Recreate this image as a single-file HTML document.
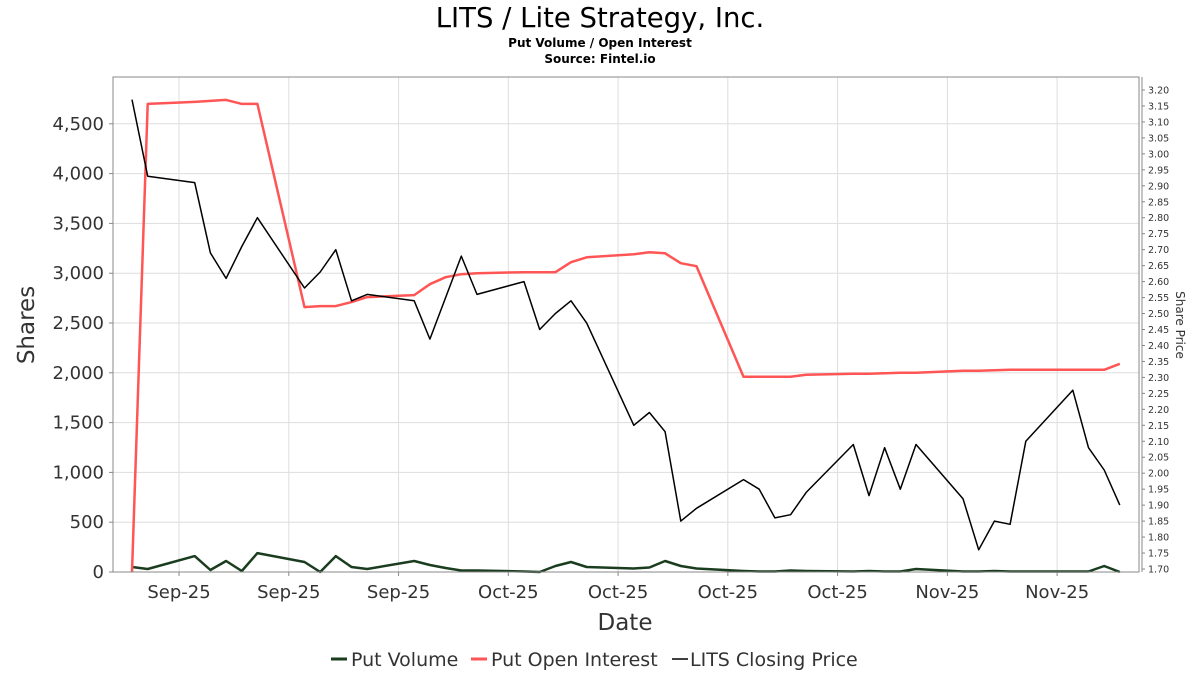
<!DOCTYPE html>
<html><head><meta charset="utf-8"><style>
body{margin:0;background:#fff;font-family:"Liberation Sans","DejaVu Sans",sans-serif}
svg{display:block}
</style></head><body>
<svg id="c" width="1200" height="675" xmlns="http://www.w3.org/2000/svg" font-family="DejaVu Sans, Liberation Sans, sans-serif">
<rect width="1200" height="675" fill="#fff"/>
<text x="600" y="27" text-anchor="middle" font-size="27.5" fill="#000">LITS / Lite Strategy, Inc.</text>
<text x="600" y="47" text-anchor="middle" font-size="12" font-weight="bold">Put Volume / Open Interest</text>
<text x="600" y="63" text-anchor="middle" font-size="12" font-weight="bold">Source: Fintel.io</text>
<g id="grid"></g>
<g id="axes"></g>
<g id="series"></g>
<rect x="113" y="77" width="1026" height="495" fill="none" stroke="#888" stroke-width="1"/>
<text transform="translate(34,325) rotate(-90)" text-anchor="middle" font-size="23" fill="#333">Shares</text>
<text transform="translate(1176,325) rotate(90)" text-anchor="middle" font-size="12" fill="#333">Share Price</text>
<text x="625" y="630" text-anchor="middle" font-size="23" fill="#333">Date</text>
<g font-size="19" fill="#333">
<g><line x1="331" y1="659" x2="347" y2="659" stroke="#1b3d1f" stroke-width="3"/><text x="351" y="666">Put Volume</text></g>
<g><line x1="471" y1="659" x2="487" y2="659" stroke="#ff5555" stroke-width="3"/><text x="491" y="666">Put Open Interest</text></g>
<g><line x1="672" y1="659" x2="688" y2="659" stroke="#000" stroke-width="1.5"/><text x="690" y="666">LITS Closing Price</text></g>
</g>
</svg>
<script>
const days=[0,1,4,5,6,7,8,11,12,13,14,15,18,19,20,21,22,25,26,27,28,29,32,33,34,35,36,39,40,41,42,43,46,47,48,49,50,53,54,55,56,57,60,61,62,63];
const price=[3.17,2.93,2.91,2.69,2.61,2.71,2.80,2.58,2.63,2.70,2.54,2.56,2.54,2.42,2.55,2.68,2.56,2.60,2.45,2.50,2.54,2.47,2.15,2.19,2.13,1.85,1.89,1.98,1.95,1.86,1.87,1.94,2.09,1.93,2.08,1.95,2.09,1.92,1.76,1.85,1.84,2.10,2.26,2.08,2.01,1.90];
const openInterest=[0,4700,4720,4730,4740,4700,4700,2660,2670,2670,2710,2760,2780,2890,2960,2990,3000,3010,3010,3010,3110,3160,3190,3210,3200,3100,3070,1960,1960,1960,1960,1980,1990,1990,1995,2000,2000,2020,2020,2025,2030,2030,2030,2030,2030,2090];
const putVolume=[50,30,160,20,110,10,190,100,0,160,50,30,110,70,40,15,15,5,0,60,100,50,35,45,110,60,35,10,5,5,15,10,5,10,5,5,30,5,5,10,5,5,5,5,60,0];
const xTickDays=[3,10,17,24,31,38,45,52,59];
const xTickLabels=["Sep-25","Sep-25","Sep-25","Oct-25","Oct-25","Oct-25","Oct-25","Nov-25","Nov-25"];
const yTicks=[0,500,1000,1500,2000,2500,3000,3500,4000,4500];
const y2Ticks=[];for(let i=0;i<=30;i++)y2Ticks.push(1.70+i*0.05);

const NS="http://www.w3.org/2000/svg";
const X=d=>132+d*15.68;
const Y=v=>572-v*49.8/500;
const Y2=p=>569-(p-1.70)/1.5*479;
function mk(tag,attrs,parent){const e=document.createElementNS(NS,tag);for(const k in attrs)e.setAttribute(k,attrs[k]);parent.appendChild(e);return e;}
const grid=document.getElementById('grid'),axes=document.getElementById('axes'),ser=document.getElementById('series');
yTicks.forEach(v=>{
 const g=mk('line',{x1:113,x2:1139,y1:Y(v),y2:Y(v),stroke:'#ddd','stroke-width':1},grid);
 
 
 mk('line',{x1:109,x2:113,y1:Y(v),y2:Y(v),stroke:'#888'},axes);
 const t=mk('text',{x:104,y:Y(v)+6,'text-anchor':'end','font-size':18,fill:'#333'},axes);
 t.textContent=v.toLocaleString('en-US');
 
 
});
xTickDays.forEach((d,i)=>{
 const g=mk('line',{x1:X(d),x2:X(d),y1:77,y2:572,stroke:'#ddd','stroke-width':1},grid);
 
 
 mk('line',{x1:X(d),x2:X(d),y1:572,y2:576,stroke:'#888'},axes);
 const t=mk('text',{x:X(d),y:598,'text-anchor':'middle','font-size':18,fill:'#333'},axes);
 t.textContent=xTickLabels[i];
 
 
});
mk('line',{x1:1142,x2:1142,y1:77,y2:572,stroke:'#888'},axes);
y2Ticks.forEach(p=>{
 mk('line',{x1:1142,x2:1145,y1:Y2(p),y2:Y2(p),stroke:'#888'},axes);
 const t=mk('text',{x:1148,y:Y2(p)+3.5,'font-size':9.5,fill:'#333'},axes);
 t.textContent=p.toFixed(2);
 
 
});
function line(vals,fy,color,w,name){
 const pts=vals.map((v,i)=>X(days[i]).toFixed(1)+','+fy(v).toFixed(1)).join(' ');
 const p=mk('polyline',{points:pts,fill:'none',stroke:color,'stroke-width':w,'stroke-linejoin':'round'},ser);
 
 
}
line(putVolume,Y,'#1b3d1f',2.5,'put-volume-line');
line(openInterest,Y,'#ff5555',2.5,'put-open-interest-line');
line(price,Y2,'#000',1.5,'closing-price-line');
</script>
</body></html>
